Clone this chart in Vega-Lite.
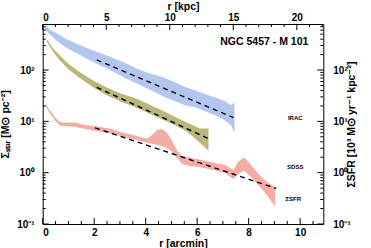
{
  "$schema": "https://vega.github.io/schema/vega-lite/v6.json",
  "width": 280.6,
  "height": 200,
  "autosize": {"type": "none"},
  "padding": {"left": 42.7, "top": 24, "right": 47.7, "bottom": 24},
  "background": "white",
  "config": {
    "view": {"stroke": "black", "strokeWidth": 1},
    "axis": {"grid": false, "domain": false, "ticks": false, "tickSize": 0,
      "labelFont": "Liberation Sans", "labelFontWeight": "bold", "labelFontSize": 10, "labelColor": "black",
      "titleFont": "Liberation Sans", "titleFontWeight": "bold", "titleFontSize": 10.5, "titleColor": "black"}
  },
  "data": {"values": [
    {"set": "band", "series": "IRAC", "r": 0.09, "lo": 616, "hi": 690},
    {"set": "band", "series": "IRAC", "r": 0.28, "lo": 491, "hi": 616},
    {"set": "band", "series": "IRAC", "r": 0.59, "lo": 357, "hi": 502},
    {"set": "band", "series": "IRAC", "r": 0.98, "lo": 260, "hi": 391},
    {"set": "band", "series": "IRAC", "r": 1.49, "lo": 190, "hi": 298},
    {"set": "band", "series": "IRAC", "r": 2.10, "lo": 132, "hi": 227},
    {"set": "band", "series": "IRAC", "r": 2.62, "lo": 100, "hi": 181},
    {"set": "band", "series": "IRAC", "r": 3.20, "lo": 70, "hi": 138},
    {"set": "band", "series": "IRAC", "r": 3.78, "lo": 51, "hi": 100},
    {"set": "band", "series": "IRAC", "r": 4.36, "lo": 37, "hi": 80},
    {"set": "band", "series": "IRAC", "r": 4.75, "lo": 29.5, "hi": 70},
    {"set": "band", "series": "IRAC", "r": 5.14, "lo": 24.6, "hi": 58},
    {"set": "band", "series": "IRAC", "r": 5.53, "lo": 20.6, "hi": 46.5},
    {"set": "band", "series": "IRAC", "r": 5.92, "lo": 18.8, "hi": 40.6},
    {"set": "band", "series": "IRAC", "r": 6.31, "lo": 15.7, "hi": 33.9},
    {"set": "band", "series": "IRAC", "r": 6.70, "lo": 13.1, "hi": 29.5},
    {"set": "band", "series": "IRAC", "r": 7.08, "lo": 10.4, "hi": 24.6},
    {"set": "band", "series": "IRAC", "r": 7.32, "lo": 8.3, "hi": 20.6},
    {"set": "band", "series": "IRAC", "r": 7.45, "lo": 6.0, "hi": 23.6},
    {"set": "band", "series": "SDSS", "r": 0.16, "lo": 362, "hi": 397},
    {"set": "band", "series": "SDSS", "r": 0.41, "lo": 224, "hi": 260},
    {"set": "band", "series": "SDSS", "r": 0.67, "lo": 153, "hi": 192},
    {"set": "band", "series": "SDSS", "r": 0.99, "lo": 105, "hi": 132},
    {"set": "band", "series": "SDSS", "r": 1.45, "lo": 69, "hi": 90.5},
    {"set": "band", "series": "SDSS", "r": 1.97, "lo": 45.8, "hi": 61.8},
    {"set": "band", "series": "SDSS", "r": 2.49, "lo": 32.4, "hi": 45.8},
    {"set": "band", "series": "SDSS", "r": 3.00, "lo": 24.6, "hi": 35.4},
    {"set": "band", "series": "SDSS", "r": 3.52, "lo": 19.6, "hi": 29.2},
    {"set": "band", "series": "SDSS", "r": 4.04, "lo": 15.0, "hi": 22.5},
    {"set": "band", "series": "SDSS", "r": 4.56, "lo": 11.4, "hi": 17.1},
    {"set": "band", "series": "SDSS", "r": 5.08, "lo": 8.69, "hi": 12.7},
    {"set": "band", "series": "SDSS", "r": 5.60, "lo": 6.33, "hi": 9.51},
    {"set": "band", "series": "SDSS", "r": 6.11, "lo": 3.84, "hi": 7.25},
    {"set": "band", "series": "SDSS", "r": 6.44, "lo": 2.67, "hi": 7.25},
    {"set": "band", "series": "SFR", "r": 0.09, "lo": 20.6, "hi": 22.5},
    {"set": "band", "series": "SFR", "r": 0.28, "lo": 14.3, "hi": 16.4},
    {"set": "band", "series": "SFR", "r": 0.48, "lo": 10.4, "hi": 11.9},
    {"set": "band", "series": "SFR", "r": 0.67, "lo": 8.3, "hi": 9.7},
    {"set": "band", "series": "SFR", "r": 0.87, "lo": 8.1, "hi": 9.5},
    {"set": "band", "series": "SFR", "r": 1.26, "lo": 7.9, "hi": 9.5},
    {"set": "band", "series": "SFR", "r": 1.64, "lo": 7.1, "hi": 8.5},
    {"set": "band", "series": "SFR", "r": 2.03, "lo": 6.6, "hi": 8.1},
    {"set": "band", "series": "SFR", "r": 2.62, "lo": 5.8, "hi": 7.2},
    {"set": "band", "series": "SFR", "r": 3.12, "lo": 5.05, "hi": 6.0},
    {"set": "band", "series": "SFR", "r": 3.59, "lo": 4.4, "hi": 5.3},
    {"set": "band", "series": "SFR", "r": 4.05, "lo": 3.84, "hi": 4.6},
    {"set": "band", "series": "SFR", "r": 4.25, "lo": 3.67, "hi": 5.4},
    {"set": "band", "series": "SFR", "r": 4.44, "lo": 3.51, "hi": 6.9},
    {"set": "band", "series": "SFR", "r": 4.64, "lo": 3.28, "hi": 7.1},
    {"set": "band", "series": "SFR", "r": 4.83, "lo": 2.99, "hi": 6.0},
    {"set": "band", "series": "SFR", "r": 5.03, "lo": 2.55, "hi": 4.2},
    {"set": "band", "series": "SFR", "r": 5.22, "lo": 1.95, "hi": 2.67},
    {"set": "band", "series": "SFR", "r": 5.41, "lo": 1.48, "hi": 2.13},
    {"set": "band", "series": "SFR", "r": 5.73, "lo": 1.35, "hi": 1.95},
    {"set": "band", "series": "SFR", "r": 6.11, "lo": 1.27, "hi": 1.78},
    {"set": "band", "series": "SFR", "r": 6.70, "lo": 1.10, "hi": 1.55},
    {"set": "band", "series": "SFR", "r": 7.08, "lo": 0.99, "hi": 1.42},
    {"set": "band", "series": "SFR", "r": 7.40, "lo": 0.75, "hi": 1.13},
    {"set": "band", "series": "SFR", "r": 7.59, "lo": 0.94, "hi": 1.62},
    {"set": "band", "series": "SFR", "r": 7.82, "lo": 1.08, "hi": 1.99},
    {"set": "band", "series": "SFR", "r": 8.06, "lo": 0.86, "hi": 1.48},
    {"set": "band", "series": "SFR", "r": 8.45, "lo": 0.52, "hi": 0.86},
    {"set": "band", "series": "SFR", "r": 8.72, "lo": 0.36, "hi": 0.66},
    {"set": "band", "series": "SFR", "r": 9.03, "lo": 0.22, "hi": 0.52},
    {"set": "fit", "series": "IRAC", "r": 2.10, "v": 158},
    {"set": "fit", "series": "IRAC", "r": 7.41, "v": 11.8},
    {"set": "fit", "series": "SDSS", "r": 2.10, "v": 45.9},
    {"set": "fit", "series": "SDSS", "r": 6.44, "v": 4.61},
    {"set": "fit", "series": "SFR", "r": 2.03, "v": 7.48},
    {"set": "fit", "series": "SFR", "r": 9.07, "v": 0.493},
    {"set": "title", "text": "NGC 5457 - M 101", "r": 10.32, "v": 357},
    {"set": "small", "text": "IRAC", "r": 9.81, "v": 11.5},
    {"set": "small", "text": "SDSS", "r": 9.81, "v": 1.31},
    {"set": "small", "text": "ΣSFR", "r": 9.73, "v": 0.307},
    {"set": "xmaj", "t": 0}, {"set": "xmaj", "t": 2}, {"set": "xmaj", "t": 4}, {"set": "xmaj", "t": 6}, {"set": "xmaj", "t": 8}, {"set": "xmaj", "t": 10},
    {"set": "xmin", "t": 0.5}, {"set": "xmin", "t": 1}, {"set": "xmin", "t": 1.5}, {"set": "xmin", "t": 2.5}, {"set": "xmin", "t": 3}, {"set": "xmin", "t": 3.5},
    {"set": "xmin", "t": 4.5}, {"set": "xmin", "t": 5}, {"set": "xmin", "t": 5.5}, {"set": "xmin", "t": 6.5}, {"set": "xmin", "t": 7}, {"set": "xmin", "t": 7.5},
    {"set": "xmin", "t": 8.5}, {"set": "xmin", "t": 9}, {"set": "xmin", "t": 9.5}, {"set": "xmin", "t": 10.5},
    {"set": "kmaj", "t": 0}, {"set": "kmaj", "t": 2.4679}, {"set": "kmaj", "t": 4.9358}, {"set": "kmaj", "t": 7.4038}, {"set": "kmaj", "t": 9.8717},
    {"set": "kmin", "t": 0.4936}, {"set": "kmin", "t": 0.9872}, {"set": "kmin", "t": 1.4808}, {"set": "kmin", "t": 1.9743}, {"set": "kmin", "t": 2.9615}, {"set": "kmin", "t": 3.4551},
    {"set": "kmin", "t": 3.9487}, {"set": "kmin", "t": 4.4423}, {"set": "kmin", "t": 5.4294}, {"set": "kmin", "t": 5.9230}, {"set": "kmin", "t": 6.4166}, {"set": "kmin", "t": 6.9102},
    {"set": "kmin", "t": 7.8973}, {"set": "kmin", "t": 8.3909}, {"set": "kmin", "t": 8.8845}, {"set": "kmin", "t": 9.3781}, {"set": "kmin", "t": 10.3653}, {"set": "kmin", "t": 10.8588},
    {"set": "ymaj", "t": 0.1}, {"set": "ymaj", "t": 1}, {"set": "ymaj", "t": 10}, {"set": "ymaj", "t": 100},
    {"set": "ymin", "t": 0.2}, {"set": "ymin", "t": 0.3}, {"set": "ymin", "t": 0.4}, {"set": "ymin", "t": 0.5}, {"set": "ymin", "t": 0.6}, {"set": "ymin", "t": 0.7}, {"set": "ymin", "t": 0.8}, {"set": "ymin", "t": 0.9},
    {"set": "ymin", "t": 2}, {"set": "ymin", "t": 3}, {"set": "ymin", "t": 4}, {"set": "ymin", "t": 5}, {"set": "ymin", "t": 6}, {"set": "ymin", "t": 7}, {"set": "ymin", "t": 8}, {"set": "ymin", "t": 9},
    {"set": "ymin", "t": 20}, {"set": "ymin", "t": 30}, {"set": "ymin", "t": 40}, {"set": "ymin", "t": 50}, {"set": "ymin", "t": 60}, {"set": "ymin", "t": 70}, {"set": "ymin", "t": 80}, {"set": "ymin", "t": 90},
    {"set": "ymin", "t": 200}, {"set": "ymin", "t": 300}, {"set": "ymin", "t": 400}, {"set": "ymin", "t": 500}, {"set": "ymin", "t": 600}, {"set": "ymin", "t": 700}
  ]},
  "layer": [
    {
      "transform": [{"filter": "datum.set == 'band'"}],
      "mark": {"type": "area", "opacity": 1},
      "encoding": {
        "x": {"field": "r", "type": "quantitative",
          "scale": {"domain": [0, 10.9], "nice": false, "zero": false},
          "axis": {"orient": "bottom", "values": [0, 2, 4, 6, 8, 10], "labelPadding": 3, "title": "r [arcmin]", "titlePadding": 1}},
        "y": {"field": "lo", "type": "quantitative",
          "scale": {"type": "log", "domain": [0.1, 790], "nice": false},
          "axis": {"orient": "left", "values": [0.1, 1, 10, 100], "labelPadding": 8.5,
            "labelExpr": "datum.value < 0.5 ? '10⁻¹' : datum.value < 5 ? '10⁰' : datum.value < 50 ? '10¹' : '10²'",
            "title": "Σₛₜₐᵣ [M⊙ pc⁻²]", "titlePadding": 6}},
        "y2": {"field": "hi"},
        "color": {"field": "series", "type": "nominal",
          "scale": {"domain": ["IRAC", "SDSS", "SFR"], "range": ["#b3c6f0", "#b9b77a", "#f4aca4"]}, "legend": null}
      }
    },
    {
      "transform": [{"filter": "datum.set == 'fit'"}],
      "mark": {"type": "line", "color": "black", "strokeWidth": 1.4, "strokeDash": [5, 4]},
      "encoding": {
        "x": {"field": "r", "type": "quantitative", "axis": null},
        "y": {"field": "v", "type": "quantitative", "axis": null},
        "detail": {"field": "series"}
      }
    },
    {
      "transform": [{"filter": "datum.set == 'title'"}],
      "mark": {"type": "text", "align": "right", "baseline": "middle", "fontSize": 10.5, "fontWeight": "bold", "font": "Liberation Sans", "color": "black"},
      "encoding": {
        "x": {"field": "r", "type": "quantitative",
          "axis": {"orient": "top", "values": [0, 2.4679, 4.9358, 7.4038, 9.8717], "labelPadding": 2,
            "labelExpr": "format(datum.value * 2.026, '.0f')", "title": "r [kpc]", "titlePadding": 1}},
        "y": {"field": "v", "type": "quantitative",
          "axis": {"orient": "right", "values": [0.1, 1, 10, 100], "labelPadding": 9.5,
            "labelExpr": "datum.value < 0.5 ? '10⁻¹' : datum.value < 5 ? '10⁰' : datum.value < 50 ? '10¹' : '10²'",
            "title": "ΣSFR [10³ M⊙ yr⁻¹ kpc⁻²]", "titleAngle": 270, "titlePadding": 6}},
        "text": {"field": "text"}
      }
    },
    {
      "transform": [{"filter": "datum.set == 'small'"}],
      "mark": {"type": "text", "align": "center", "baseline": "middle", "fontSize": 6, "fontWeight": "bold", "font": "Liberation Sans", "color": "black"},
      "encoding": {
        "x": {"field": "r", "type": "quantitative", "axis": null},
        "y": {"field": "v", "type": "quantitative", "axis": null},
        "text": {"field": "text"}
      }
    },
    {
      "transform": [{"filter": "datum.set == 'xmaj'"}],
      "mark": {"type": "rule", "color": "black", "strokeWidth": 1},
      "encoding": {
        "x": {"field": "t", "type": "quantitative", "axis": null},
        "y": {"datum": 0.1, "type": "quantitative", "axis": null},
        "y2": {"datum": 0.1309}
      }
    },
    {
      "transform": [{"filter": "datum.set == 'xmin'"}],
      "mark": {"type": "rule", "color": "black", "strokeWidth": 1},
      "encoding": {
        "x": {"field": "t", "type": "quantitative", "axis": null},
        "y": {"datum": 0.1, "type": "quantitative", "axis": null},
        "y2": {"datum": 0.1144}
      }
    },
    {
      "transform": [{"filter": "datum.set == 'kmaj'"}],
      "mark": {"type": "rule", "color": "black", "strokeWidth": 1},
      "encoding": {
        "x": {"field": "t", "type": "quantitative", "axis": null},
        "y": {"datum": 790, "type": "quantitative", "axis": null},
        "y2": {"datum": 603.5}
      }
    },
    {
      "transform": [{"filter": "datum.set == 'kmin'"}],
      "mark": {"type": "rule", "color": "black", "strokeWidth": 1},
      "encoding": {
        "x": {"field": "t", "type": "quantitative", "axis": null},
        "y": {"datum": 790, "type": "quantitative", "axis": null},
        "y2": {"datum": 690.5}
      }
    },
    {
      "transform": [{"filter": "datum.set == 'ymaj'"}],
      "mark": {"type": "rule", "color": "black", "strokeWidth": 1},
      "encoding": {
        "y": {"field": "t", "type": "quantitative", "axis": null},
        "x": {"datum": 0, "type": "quantitative", "axis": null},
        "x2": {"datum": 0.2331}
      }
    },
    {
      "transform": [{"filter": "datum.set == 'ymin'"}],
      "mark": {"type": "rule", "color": "black", "strokeWidth": 1},
      "encoding": {
        "y": {"field": "t", "type": "quantitative", "axis": null},
        "x": {"datum": 0, "type": "quantitative", "axis": null},
        "x2": {"datum": 0.1166}
      }
    },
    {
      "transform": [{"filter": "datum.set == 'ymaj'"}],
      "mark": {"type": "rule", "color": "black", "strokeWidth": 1},
      "encoding": {
        "y": {"field": "t", "type": "quantitative", "axis": null},
        "x": {"datum": 10.9, "type": "quantitative", "axis": null},
        "x2": {"datum": 10.6669}
      }
    },
    {
      "transform": [{"filter": "datum.set == 'ymin'"}],
      "mark": {"type": "rule", "color": "black", "strokeWidth": 1},
      "encoding": {
        "y": {"field": "t", "type": "quantitative", "axis": null},
        "x": {"datum": 10.9, "type": "quantitative", "axis": null},
        "x2": {"datum": 10.7834}
      }
    }
  ],
  "resolve": {"axis": {"x": "independent", "y": "independent"}}
}
